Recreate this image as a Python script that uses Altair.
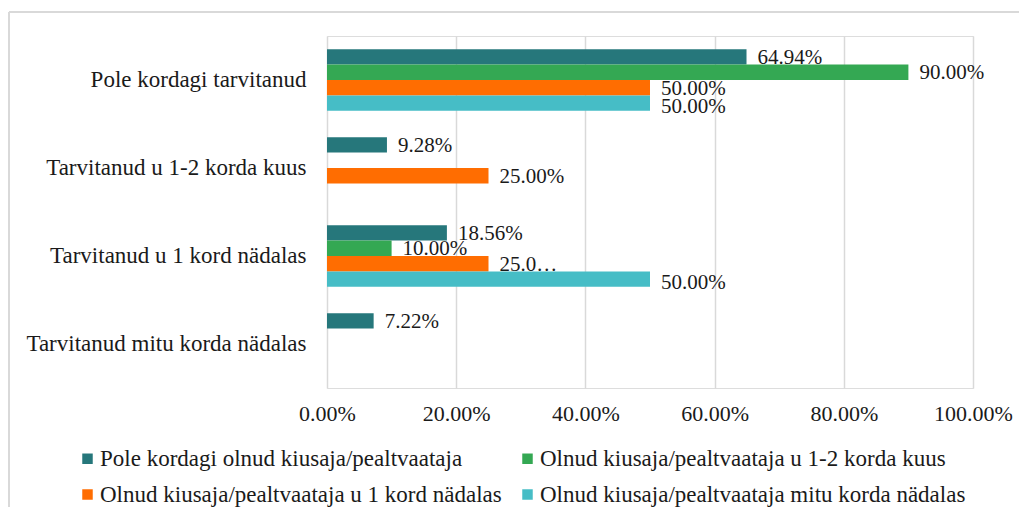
import altair as alt
import pandas as pd

categories = [
    "Pole kordagi tarvitanud",
    "Tarvitanud u 1-2 korda kuus",
    "Tarvitanud u 1 kord nädalas",
    "Tarvitanud mitu korda nädalas",
]
series = [
    "Pole kordagi olnud kiusaja/pealtvaataja",
    "Olnud kiusaja/pealtvaataja u 1-2 korda kuus",
    "Olnud kiusaja/pealtvaataja u 1 kord nädalas",
    "Olnud kiusaja/pealtvaataja mitu korda nädalas",
]
colors = ["#26777b", "#34a853", "#ff6d01", "#46bdc6"]

s1_values = [0.6494, 0.0928, 0.1856, 0.0722]
s2_values = [0.90, None, 0.10, None]
s3_values = [0.50, 0.25, 0.25, None]
s4_values = [0.50, None, 0.50, None]

s1_labels = ["64.94%", "9.28%", "18.56%", "7.22%"]
s2_labels = ["90.00%", None, "10.00%", None]
s3_labels = ["50.00%", "25.00%", "25.0…", None]
s4_labels = ["50.00%", None, "50.00%", None]

x_ticks = [0, 0.2, 0.4, 0.6, 0.8, 1.0]

rows = []
for s, vals, labs in zip(series,
                         [s1_values, s2_values, s3_values, s4_values],
                         [s1_labels, s2_labels, s3_labels, s4_labels]):
    for c, v, l in zip(categories, vals, labs):
        if v is not None:
            rows.append({"Kategooria": c, "Seeria": s, "Väärtus": v, "Silt": l})
df = pd.DataFrame(rows)

FONT = "Liberation Serif"
GRID = "#d9d9d9"
INK = "#1a1a1a"

base = alt.Chart(df).encode(
    y=alt.Y("Kategooria:N", sort=categories, title=None,
            scale=alt.Scale(paddingInner=0.3, paddingOuter=0.15),
            axis=alt.Axis(domain=False, ticks=False, labelPadding=21,
                          labelFont=FONT, labelFontSize=23, labelColor=INK,
                          labelLimit=400)),
    x=alt.X("Väärtus:Q", title=None,
            scale=alt.Scale(domain=[0, 1], nice=False),
            axis=alt.Axis(values=x_ticks, format=".2%", domain=False, ticks=False,
                          grid=True, gridColor=GRID, gridWidth=1.5, labelPadding=15,
                          labelFlush=False, labelAlign="center",
                          labelFont=FONT, labelFontSize=22, labelColor=INK)),
    yOffset=alt.YOffset("Seeria:N", sort=series),
)

bars = base.mark_bar().encode(
    color=alt.Color("Seeria:N", sort=series,
                    scale=alt.Scale(domain=series, range=colors),
                    legend=alt.Legend(title=None, orient="none", legendX=-251, legendY=411,
                                      direction="horizontal",
                                      columns=2, symbolType="square", symbolSize=110,
                                      symbolStrokeWidth=0, labelFont=FONT,
                                      labelFontSize=23, labelColor=INK,
                                      rowPadding=12, columnPadding=14, labelOffset=1,
                                      labelLimit=600)),
)

last_series = series[-1]
labels_main = base.mark_text(align="left", baseline="middle", dx=11, dy=1, font=FONT,
                             fontSize=21, color=INK).encode(text="Silt:N").transform_filter(
    alt.datum.Seeria != last_series)
labels_last = base.mark_text(align="left", baseline="middle", dx=11, dy=4, font=FONT,
                             fontSize=21, color=INK).encode(text="Silt:N").transform_filter(
    alt.datum.Seeria == last_series)

frame_data = alt.Data(values=[{"k": 1}])
top_line = alt.Chart(frame_data).mark_rule(color=GRID, strokeWidth=2).encode(
    x=alt.value(-318), x2=alt.value(700), y=alt.value(-24))
left_line = alt.Chart(frame_data).mark_rule(color=GRID, strokeWidth=2).encode(
    x=alt.value(-318), y=alt.value(-24), y2=alt.value(480))

chart = alt.layer(top_line, left_line, bars, labels_main, labels_last).properties(
    width=646, height=352,
    autosize=alt.AutoSizeParams(type="none"),
    padding={"left": 319, "top": 28, "right": 46, "bottom": 119},
).configure_view(stroke=None).configure(background="white")

chart.save("out.html", embed_options={"renderer": "svg", "actions": False})
